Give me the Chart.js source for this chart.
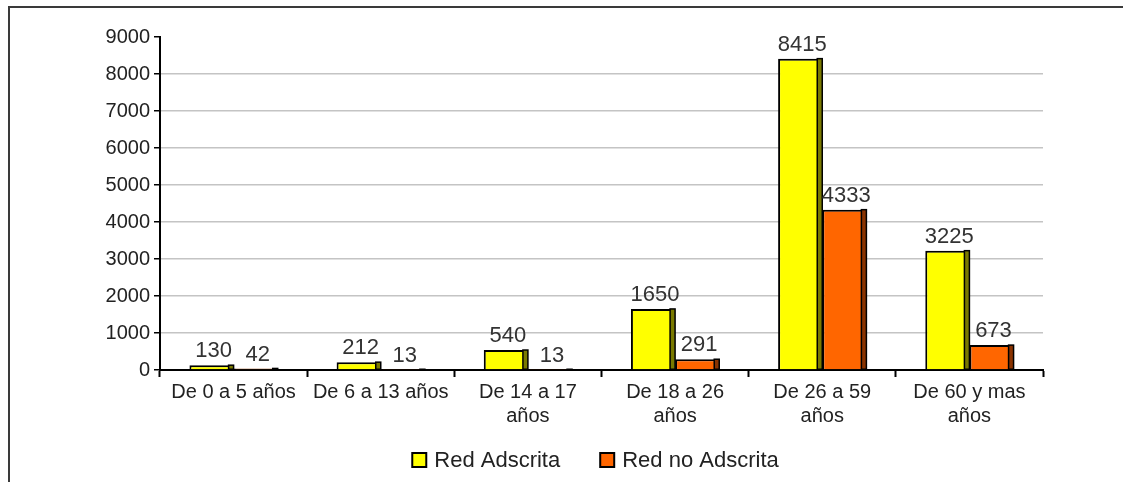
<!DOCTYPE html>
<html lang="es">
<head>
    <meta charset="UTF-8">
    <title>Red Adscrita por edad</title>
    <script src="https://cdn.jsdelivr.net/npm/chart.js"></script>
    <style>
        body { margin: 0; background: #fff; }
        #frame {
            position: absolute; left: 8px; top: 6px; width: 1200px; height: 500px;
            border-top: 2px solid #3a3a3a; border-left: 2px solid #3a3a3a;
        }
        #wrap { position: absolute; left: 0; top: 0; width: 1123px; height: 482px; }
    </style>
</head>
<body>
    <div id="frame"></div>
    <div id="wrap"><canvas id="edadChart" width="1123" height="482"></canvas></div>
    <script>
        const categorias = [
            ["De 0 a 5 años"], ["De 6 a 13 años"], ["De 14 a 17", "años"],
            ["De 18 a 26", "años"], ["De 26 a 59", "años"], ["De 60 y mas", "años"]
        ];
        const redAdscrita = [130, 212, 540, 1650, 8415, 3225];
        const redNoAdscrita = [42, 13, 13, 291, 4333, 673];
        const yTicks = [0, 1000, 2000, 3000, 4000, 5000, 6000, 7000, 8000, 9000];

        const FONT = "'Liberation Sans', Arial, sans-serif";
        const sideColors = ["#7a7a00", "#8a3300"];

        // lateral oscuro (efecto 3D) de cada barra
        const sidePlugin = {
            id: "side3d",
            afterDatasetDraw(chart, args) {
                const ctx = chart.ctx;
                args.meta.data.forEach(bar => {
                    const p = bar.getProps(["x", "y", "base", "width"], true);
                    const x = p.x + p.width / 2 - 5;
                    ctx.save();
                    ctx.fillStyle = sideColors[args.index];
                    ctx.strokeStyle = "#000";
                    ctx.lineWidth = 1.5;
                    ctx.fillRect(x, p.y, 5, p.base - p.y);
                    ctx.strokeRect(x, p.y, 5, p.base - p.y);
                    ctx.restore();
                });
            }
        };

        const labelPlugin = {
            id: "valores",
            afterDatasetsDraw(chart) {
                const ctx = chart.ctx;
                ctx.save();
                ctx.font = "22px " + FONT;
                ctx.fillStyle = "#333";
                ctx.textAlign = "center";
                ctx.textBaseline = "bottom";
                chart.data.datasets.forEach((ds, i) => {
                    chart.getDatasetMeta(i).data.forEach((bar, j) => {
                        ctx.fillText(ds.data[j], bar.x + 2, bar.y - 3);
                    });
                });
                ctx.restore();
            }
        };

        // leyenda inferior, centrada bajo el área del gráfico
        const legendPlugin = {
            id: "leyenda",
            afterDraw(chart) {
                const ctx = chart.ctx;
                const area = chart.chartArea;
                const box = 14, gap = 8, sep = 40;
                ctx.save();
                ctx.font = "22px " + FONT;
                const items = chart.data.datasets.map(ds => ({
                    text: ds.label, color: ds.backgroundColor, w: ctx.measureText(ds.label).width
                }));
                const total = items.reduce((s, it) => s + box + gap + it.w, 0) + sep * (items.length - 1);
                let x = (area.left + area.right) / 2 - 6 - total / 2;
                const y = 460;
                ctx.textBaseline = "middle";
                ctx.textAlign = "left";
                items.forEach(it => {
                    ctx.fillStyle = it.color;
                    ctx.fillRect(x, y - box / 2, box, box);
                    ctx.strokeStyle = "#000";
                    ctx.lineWidth = 2;
                    ctx.strokeRect(x, y - box / 2, box, box);
                    ctx.fillStyle = "#222";
                    ctx.fillText(it.text, x + box + gap, y + 1);
                    x += box + gap + it.w + sep;
                });
                ctx.restore();
            }
        };

        new Chart(document.getElementById("edadChart"), {
            type: "bar",
            data: {
                labels: categorias,
                datasets: [{
                    label: "Red Adscrita",
                    data: redAdscrita,
                    backgroundColor: "#ffff00",
                    borderColor: "#000",
                    borderWidth: 2
                }, {
                    label: "Red no Adscrita",
                    data: redNoAdscrita,
                    backgroundColor: "#ff6600",
                    borderColor: "#000",
                    borderWidth: 2
                }]
            },
            options: {
                responsive: false,
                animation: false,
                categoryPercentage: 0.6,
                barPercentage: 1.0,
                layout: { padding: { top: 37, right: 80, bottom: 54, left: 0 } },
                plugins: {
                    tooltip: { enabled: false },
                    legend: { display: false }
                },
                scales: {
                    x: {
                        afterFit(scale) { scale.height = 58; },
                        border: { display: true, color: "#000", width: 2 },
                        grid: { drawOnChartArea: false, tickLength: 7, tickColor: "#000", tickWidth: 2 },
                        ticks: {
                            color: "#222",
                            font: { family: FONT, size: 20 },
                            maxRotation: 0,
                            autoSkip: false,
                            padding: 3
                        }
                    },
                    y: {
                        min: 0,
                        max: 9000,
                        afterFit(scale) { scale.width = 160; },
                        afterBuildTicks(scale) { scale.ticks = yTicks.map(v => ({ value: v })); },
                        border: { display: true, color: "#000", width: 2 },
                        grid: {
                            color: ctx => ctx.tick && ctx.tick.value === 9000 ? "rgba(0,0,0,0)" : "#c4c4c4",
                            lineWidth: 1.5,
                            tickLength: 6,
                            tickColor: "#000"
                        },
                        ticks: {
                            color: "#222",
                            font: { family: FONT, size: 20 },
                            padding: 4,
                            callback: v => String(v)
                        }
                    }
                }
            },
            plugins: [sidePlugin, labelPlugin, legendPlugin]
        });
    </script>
</body>
</html>
